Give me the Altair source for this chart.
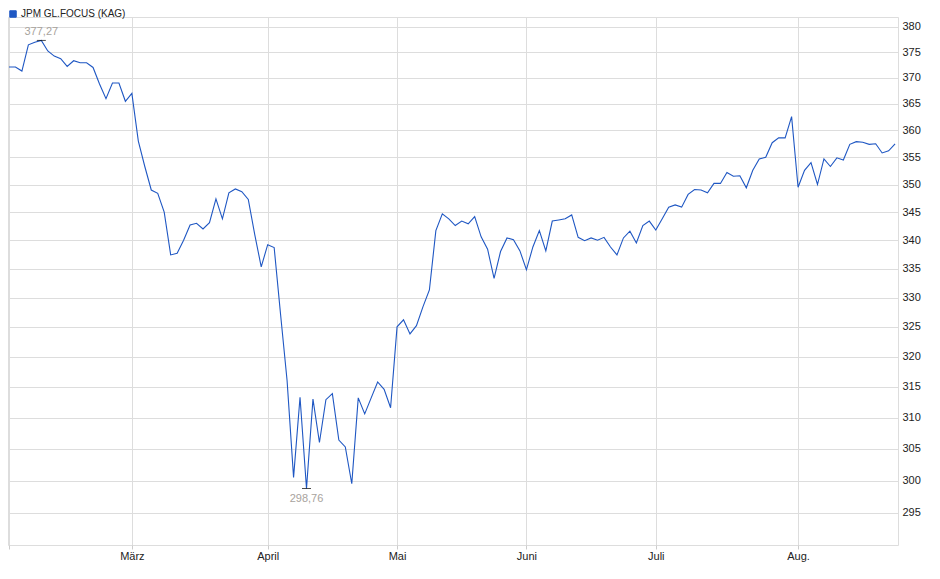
import altair as alt
import pandas as pd
import numpy as np

series_name = "JPM GL.FOCUS (KAG)"

# one value per trading day (Feb 3 .. Aug 22)
values = [
    372.1, 372.1, 371.3, 376.4, 376.9, 377.27, 375.2, 374.2, 373.7, 372.2,
    373.3, 372.9, 372.9, 372.0, 368.8, 366.0, 369.0, 369.0, 365.5, 367.0,
    358.0, 353.3, 349.0, 348.4, 345.0, 337.4, 337.7, 340.0, 342.7, 343.0,
    342.0, 343.1, 347.4, 343.8, 348.5, 349.2, 348.7, 347.3, 341.0, 335.3,
    339.2, 338.7, 327.0, 316.0, 300.5, 313.3, 298.76, 313.0, 306.0, 312.9,
    313.9, 306.4, 305.3, 299.5, 313.2, 310.6, 313.2, 315.8, 314.6, 311.6,
    325.0, 326.2, 323.8, 325.2, 328.4, 331.3, 341.7, 344.7, 343.8, 342.6,
    343.4, 342.9, 344.2, 340.6, 338.4, 333.3, 338.0, 340.4, 340.1, 338.1,
    334.8, 338.8, 341.7, 338.1, 343.4, 343.6, 343.8, 344.5, 340.5, 339.9,
    340.4, 340.0, 340.5, 338.8, 337.4, 340.4, 341.6, 339.5, 342.6, 343.4,
    341.8, 343.8, 345.9, 346.3, 345.9, 348.2, 349.1, 349.0, 348.5, 350.2,
    350.2, 352.2, 351.5, 351.6, 349.4, 352.6, 354.7, 355.0, 357.7, 358.6,
    358.6, 362.6, 349.5, 352.6, 354.0, 350.0, 354.7, 353.3, 354.9, 354.5,
    357.4, 357.9, 357.8, 357.4, 357.5, 355.8, 356.2, 357.5,
]

# first trading day of each month (index into values) and labels
month_ticks = [0, 19, 40, 60, 80, 100, 122]
month_labels = ["", "März", "April", "Mai", "Juni", "Juli", "Aug."]
y_ticks = list(range(295, 381, 5))

LINE = "#1f57c3"
GRID = "#dddddd"
FONT = "Liberation Sans"

df = pd.DataFrame({"i": list(range(len(values))), "v": values, "series": series_name})

imax = int(np.argmax(values))
imin = int(np.argmin(values))


def de(v):
    return f"{v:.2f}".replace(".", ",")


ext = pd.DataFrame({
    "i": [imax, imin],
    "v": [values[imax], values[imin]],
    "lab": [de(values[imax]), de(values[imin])],
    "pos": ["max", "min"],
})

label_expr = ""
for t, l in zip(month_ticks, month_labels):
    label_expr += f"datum.value == {t} ? '{l}' : "
label_expr += "''"

x_enc = alt.X(
    "i:Q",
    scale=alt.Scale(domain=[-0.15, 137.45], nice=False, zero=False),
    axis=alt.Axis(
        values=month_ticks, labelExpr=label_expr, title=None, grid=True,
        gridColor=GRID, tickColor="#cccccc", tickSize=4, domain=False,
        labelPadding=1, labelFontSize=11, labelColor="#222222", labelFont=FONT,
        labelOverlap=False, labelFlush=False,
    ),
)
y_enc = alt.Y(
    "v:Q",
    scale=alt.Scale(type="log", domain=[290.1, 381.9], nice=False, zero=False),
    axis=alt.Axis(
        orient="right", values=y_ticks, title=None, ticks=False, domain=False,
        labelPadding=4, gridColor=GRID, labelFontSize=11, labelColor="#222222",
        labelFont=FONT, format="d",
    ),
)

base = alt.Chart(df)

line = base.mark_line(strokeWidth=1.1, clip=True).encode(
    x=x_enc,
    y=y_enc,
    color=alt.Color(
        "series:N",
        scale=alt.Scale(range=[LINE]),
        legend=alt.Legend(
            title=None, orient="none", legendX=0, legendY=-8,
            symbolType="square", symbolSize=42, symbolFillColor=LINE,
            symbolStrokeColor="#143a85", symbolStrokeWidth=1,
            labelFont=FONT, labelFontSize=10, labelColor="#222222",
            labelOffset=3, padding=0, labelBaseline="middle",
        ),
    ),
)

ext_chart = alt.Chart(ext)
marks = ext_chart.mark_tick(orient="horizontal", size=9, thickness=1, color="black").encode(
    x="i:Q", y="v:Q"
)
txt_max = ext_chart.transform_filter(alt.datum.pos == "max").mark_text(
    baseline="bottom", dy=-3, fontSize=11, color="#a8a39d", font=FONT
).encode(x="i:Q", y="v:Q", text="lab:N")
txt_min = ext_chart.transform_filter(alt.datum.pos == "min").mark_text(
    baseline="top", dy=4, fontSize=11, color="#a8a39d", font=FONT
).encode(x="i:Q", y="v:Q", text="lab:N")

chart = (
    alt.layer(line, marks, txt_max, txt_min)
    .properties(
        width=890, height=528,
        autosize=alt.AutoSizeParams(type="none"),
        padding={"left": 0, "top": 9, "right": 32, "bottom": 22},
    )
    .configure_view(stroke="#d0d0d0", strokeWidth=1)
    .configure(font=FONT)
)

chart.save("out.html", embed_options={"renderer": "svg", "actions": False})
